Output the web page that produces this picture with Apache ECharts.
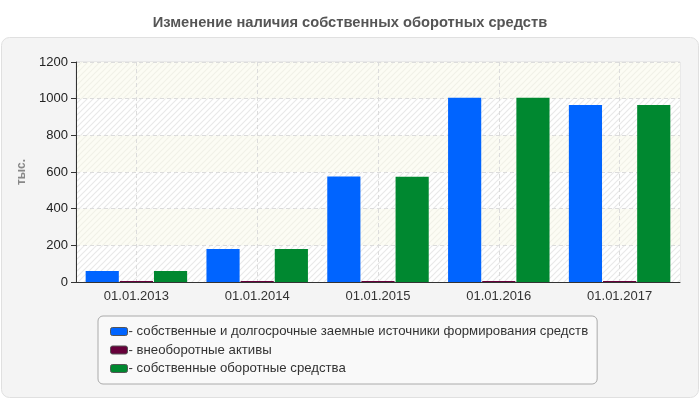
<!DOCTYPE html>
<html><head><meta charset="utf-8">
<script src="https://cdn.jsdelivr.net/npm/echarts@6/dist/echarts.min.js"></script>
<style>html,body{margin:0;padding:0;background:#fff}#c{width:700px;height:400px}</style>
</head><body><div id="c"></div>
<script>
const categories = ['01.01.2013','01.01.2014','01.01.2015','01.01.2016','01.01.2017'];
const seriesNames = ['собственные и долгосрочные заемные источники формирования средств','внеоборотные активы','собственные оборотные средства'];
const sourcesValues = [60, 180, 576, 1005, 966];
const nonCurrentValues = [6, 6, 5, 6, 6];
const workingCapitalValues = [60, 180, 574, 1005, 966];
const yTicks = [0, 200, 400, 600, 800, 1000, 1200];

function hatch(base, line){
  const c = document.createElement('canvas'); c.width = 6; c.height = 6;
  const g = c.getContext('2d');
  g.fillStyle = base; g.fillRect(0,0,6,6);
  g.strokeStyle = line; g.lineWidth = 1.2;
  g.beginPath();
  g.moveTo(-1,7); g.lineTo(7,-1);
  g.moveTo(-1,1); g.lineTo(1,-1);
  g.moveTo(5,7); g.lineTo(7,5);
  g.stroke();
  return {image: c, repeat: 'repeat'};
}
const hatchGrey = hatch('#ffffff', '#e9e9e9');
const hatchYellow = hatch('#fcfcf4', '#f1f1e8');

const halfSteps = [];
for (let i = 0; i <= categories.length * 2; i++) halfSteps.push(String(i));

const chart = echarts.init(document.getElementById('c'));
chart.setOption({
  animation: false,
  textStyle: {fontFamily: 'Liberation Sans, Arial, sans-serif'},
  graphic: [{
    type: 'rect', z: -10,
    shape: {x: 1.5, y: 37.5, width: 697, height: 360, r: 8},
    style: {fill: '#f4f4f4', stroke: '#e0e0e0', lineWidth: 1}
  }],
  title: {
    text: 'Изменение наличия собственных оборотных средств',
    left: 'center', top: 10,
    textStyle: {fontSize: 14.7, fontWeight: 'bold', color: '#555', fontFamily: 'Liberation Sans, Arial, sans-serif'}
  },
  grid: {left: 76, top: 62, right: 20, bottom: 118, show: true, borderColor: '#dddddd', borderWidth: 1, backgroundColor: 'transparent'},
  legend: {
    orient: 'vertical', left: 98, top: 316,
    padding: [8, 9, 8, 12],
    itemGap: 3.5, itemWidth: 17, itemHeight: 8,
    icon: 'roundRect',
    backgroundColor: '#f9f9f9', borderColor: '#aaaaaa', borderWidth: 1, borderRadius: 5,
    formatter: n => '- ' + n,
    textStyle: {fontSize: 13.2, color: '#333', padding: [0,0,0,-4], lineHeight: 15},
    itemStyle: {borderWidth: 1, borderColor: '#555'},
    data: seriesNames
  },
  xAxis: [{
    type: 'category', data: categories,
    axisLine: {lineStyle: {color: '#333'}},
    axisTick: {show: false},
    axisLabel: {fontSize: 13, color: '#333', margin: 8},
    splitLine: {show: false}
  }, {
    type: 'category', data: halfSteps, boundaryGap: false, position: 'bottom',
    axisLine: {show: false}, axisTick: {show: false}, axisLabel: {show: false},
    splitLine: {show: true, interval: (i) => i % 2 === 1, lineStyle: {color: '#dcdcdc', type: [4, 3]}}
  }],
  yAxis: {
    type: 'value', min: yTicks[0], max: yTicks[yTicks.length-1], interval: 200,
    name: 'тыс.', nameLocation: 'middle', nameGap: 46, nameRotate: 90,
    nameTextStyle: {fontSize: 12, fontWeight: 'bold', color: '#888'},
    axisLine: {show: true, lineStyle: {color: '#333'}},
    axisTick: {show: true, length: 5, lineStyle: {color: '#333'}},
    axisLabel: {fontSize: 13, color: '#222', margin: 8, formatter: v => String(v)},
    splitLine: {show: true, lineStyle: {color: '#dcdcdc', type: [4, 3]}},
    splitArea: {show: true, areaStyle: {color: [hatchGrey, hatchYellow]}}
  },
  series: [
    {name: seriesNames[0], type: 'bar', data: sourcesValues, itemStyle: {color: '#0064ff'}, barCategoryGap: '16%', barGap: '3%'},
    {name: seriesNames[1], type: 'bar', data: nonCurrentValues, itemStyle: {color: '#66003a'}},
    {name: seriesNames[2], type: 'bar', data: workingCapitalValues, itemStyle: {color: '#008830'}}
  ]
});
</script></body></html>
